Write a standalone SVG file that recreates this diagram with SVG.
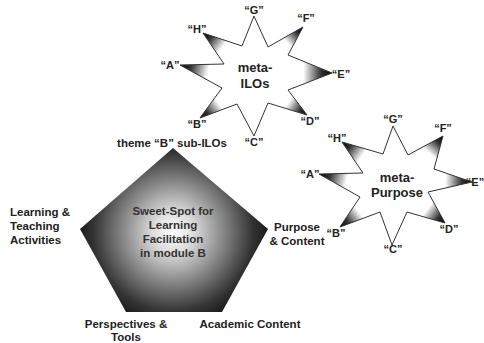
<svg xmlns="http://www.w3.org/2000/svg" width="484" height="343" viewBox="0 0 484 343">
<style>
text{font-family:"Liberation Sans",Arial,sans-serif;font-weight:bold;fill:#222}
.lbl{font-size:11.5px}
.in{fill:#333}
.q{font-size:11px;text-anchor:middle}
.c{text-anchor:middle}
.big{font-size:13px;text-anchor:middle}
.star{fill:#fff;stroke:none}
.outline{fill:none;stroke:#333;stroke-width:1}
</style>
<defs>
<radialGradient id="pg" gradientUnits="userSpaceOnUse" cx="173" cy="232" r="100">
<stop offset="0" stop-color="#fff"/>
<stop offset="0.2" stop-color="#ddd"/>
<stop offset="0.5" stop-color="#888"/>
<stop offset="0.8" stop-color="#333"/>
<stop offset="1" stop-color="#111"/>
</radialGradient>
<linearGradient id="s1F" gradientUnits="userSpaceOnUse" x1="303" y1="27" x2="278" y2="51"><stop offset="0" stop-color="#000"/><stop offset="0.25" stop-color="#333"/><stop offset="0.65" stop-color="#fff"/></linearGradient>
<linearGradient id="s1E" gradientUnits="userSpaceOnUse" x1="332" y1="73" x2="288" y2="72.5"><stop offset="0" stop-color="#000"/><stop offset="0.25" stop-color="#333"/><stop offset="0.65" stop-color="#fff"/></linearGradient>
<linearGradient id="s1D" gradientUnits="userSpaceOnUse" x1="307" y1="115" x2="278" y2="96.5"><stop offset="0" stop-color="#000"/><stop offset="0.25" stop-color="#333"/><stop offset="0.65" stop-color="#fff"/></linearGradient>
<linearGradient id="s1B" gradientUnits="userSpaceOnUse" x1="200" y1="118" x2="229.5" y2="96"><stop offset="0" stop-color="#000"/><stop offset="0.25" stop-color="#333"/><stop offset="0.65" stop-color="#fff"/></linearGradient>
<linearGradient id="s1A" gradientUnits="userSpaceOnUse" x1="180" y1="65" x2="223" y2="76"><stop offset="0" stop-color="#000"/><stop offset="0.25" stop-color="#333"/><stop offset="0.65" stop-color="#fff"/></linearGradient>
<linearGradient id="s1H" gradientUnits="userSpaceOnUse" x1="203" y1="33" x2="233" y2="55"><stop offset="0" stop-color="#000"/><stop offset="0.25" stop-color="#333"/><stop offset="0.65" stop-color="#fff"/></linearGradient>
<linearGradient id="s2F" gradientUnits="userSpaceOnUse" x1="443" y1="136" x2="421" y2="162"><stop offset="0" stop-color="#000"/><stop offset="0.25" stop-color="#333"/><stop offset="0.65" stop-color="#fff"/></linearGradient>
<linearGradient id="s2E" gradientUnits="userSpaceOnUse" x1="472" y1="182" x2="431" y2="180.5"><stop offset="0" stop-color="#000"/><stop offset="0.25" stop-color="#333"/><stop offset="0.65" stop-color="#fff"/></linearGradient>
<linearGradient id="s2D" gradientUnits="userSpaceOnUse" x1="445" y1="223" x2="417.5" y2="202"><stop offset="0" stop-color="#000"/><stop offset="0.25" stop-color="#333"/><stop offset="0.65" stop-color="#fff"/></linearGradient>
<linearGradient id="s2B" gradientUnits="userSpaceOnUse" x1="340" y1="227" x2="370" y2="204.5"><stop offset="0" stop-color="#000"/><stop offset="0.25" stop-color="#333"/><stop offset="0.65" stop-color="#fff"/></linearGradient>
<linearGradient id="s2A" gradientUnits="userSpaceOnUse" x1="319" y1="174" x2="361.5" y2="185"><stop offset="0" stop-color="#000"/><stop offset="0.25" stop-color="#333"/><stop offset="0.65" stop-color="#fff"/></linearGradient>
<linearGradient id="s2H" gradientUnits="userSpaceOnUse" x1="342" y1="142" x2="373" y2="163.5"><stop offset="0" stop-color="#000"/><stop offset="0.25" stop-color="#333"/><stop offset="0.65" stop-color="#fff"/></linearGradient>
</defs>
<rect width="484" height="343" fill="#fff"/>

<g id="pentagon">
<polygon points="173,148 268,229 222,312 126,312 80,229" fill="url(#pg)"/>
<text class="lbl c in" x="173" y="215">Sweet-Spot for</text>
<text class="lbl c in" x="173" y="229">Learning</text>
<text class="lbl c in" x="173" y="243">Facilitation</text>
<text class="lbl c in" x="173" y="257">in module B</text>
</g>

<g id="label-themeB"><text class="lbl c" x="172" y="147">theme “B” sub-ILOs</text></g>
<g id="label-learning">
<text class="lbl" x="10" y="216">Learning &amp;</text>
<text class="lbl" x="10" y="230">Teaching</text>
<text class="lbl" x="10" y="244">Activities</text>
</g>
<g id="label-purpose">
<text class="lbl c" x="297" y="231">Purpose</text>
<text class="lbl c" x="297" y="245">&amp; Content</text>
</g>
<g id="label-perspectives">
<text class="lbl c" x="126" y="328">Perspectives &amp;</text>
<text class="lbl c" x="126" y="341">Tools</text>
</g>
<g id="label-academic"><text class="lbl c" x="250" y="328">Academic Content</text></g>

<g id="star-metaILOs">
<polygon class="star" points="254,16 268,47 303,27 288,55 332,73 288,90 307,115 268,103 254,136 237,104 200,118 222,88 180,65 224,64 203,33 242,46"/>
<polygon points="268,47 303,27 288,55" fill="url(#s1F)"/>
<polygon points="288,55 332,73 288,90" fill="url(#s1E)"/>
<polygon points="288,90 307,115 268,103" fill="url(#s1D)"/>
<polygon points="237,104 200,118 222,88" fill="url(#s1B)"/>
<polygon points="222,88 180,65 224,64" fill="url(#s1A)"/>
<polygon points="224,64 203,33 242,46" fill="url(#s1H)"/>
<polygon class="outline" points="254,16 268,47 303,27 288,55 332,73 288,90 307,115 268,103 254,136 237,104 200,118 222,88 180,65 224,64 203,33 242,46"/>
<text class="big" x="255" y="72">meta-</text>
<text class="big" x="255" y="88">ILOs</text>
<text class="q" x="254" y="14">“G”</text>
<text class="q" x="306" y="22">“F”</text>
<text class="q" x="341" y="78">“E”</text>
<text class="q" x="310" y="125">“D”</text>
<text class="q" x="254" y="146">“C”</text>
<text class="q" x="197" y="128">“B”</text>
<text class="q" x="170" y="69">“A”</text>
<text class="q" x="197" y="33">“H”</text>
</g>

<g id="star-metaPurpose">
<polygon class="star" points="393,126 408,155 443,136 434,169 472,182 428,192 445,223 407,212 392,245 380,212 340,227 360,197 319,174 363,173 342,142 383,154"/>
<polygon points="408,155 443,136 434,169" fill="url(#s2F)"/>
<polygon points="434,169 472,182 428,192" fill="url(#s2E)"/>
<polygon points="428,192 445,223 407,212" fill="url(#s2D)"/>
<polygon points="380,212 340,227 360,197" fill="url(#s2B)"/>
<polygon points="360,197 319,174 363,173" fill="url(#s2A)"/>
<polygon points="363,173 342,142 383,154" fill="url(#s2H)"/>
<polygon class="outline" points="393,126 408,155 443,136 434,169 472,182 428,192 445,223 407,212 392,245 380,212 340,227 360,197 319,174 363,173 342,142 383,154"/>
<text class="big" x="397" y="182">meta-</text>
<text class="big" x="397" y="197">Purpose</text>
<text class="q" x="393" y="123">“G”</text>
<text class="q" x="443" y="132">“F”</text>
<text class="q" x="475" y="186">“E”</text>
<text class="q" x="449" y="233">“D”</text>
<text class="q" x="393" y="253">“C”</text>
<text class="q" x="336" y="237">“B”</text>
<text class="q" x="310" y="178">“A”</text>
<text class="q" x="337" y="142">“H”</text>
</g>
</svg>
